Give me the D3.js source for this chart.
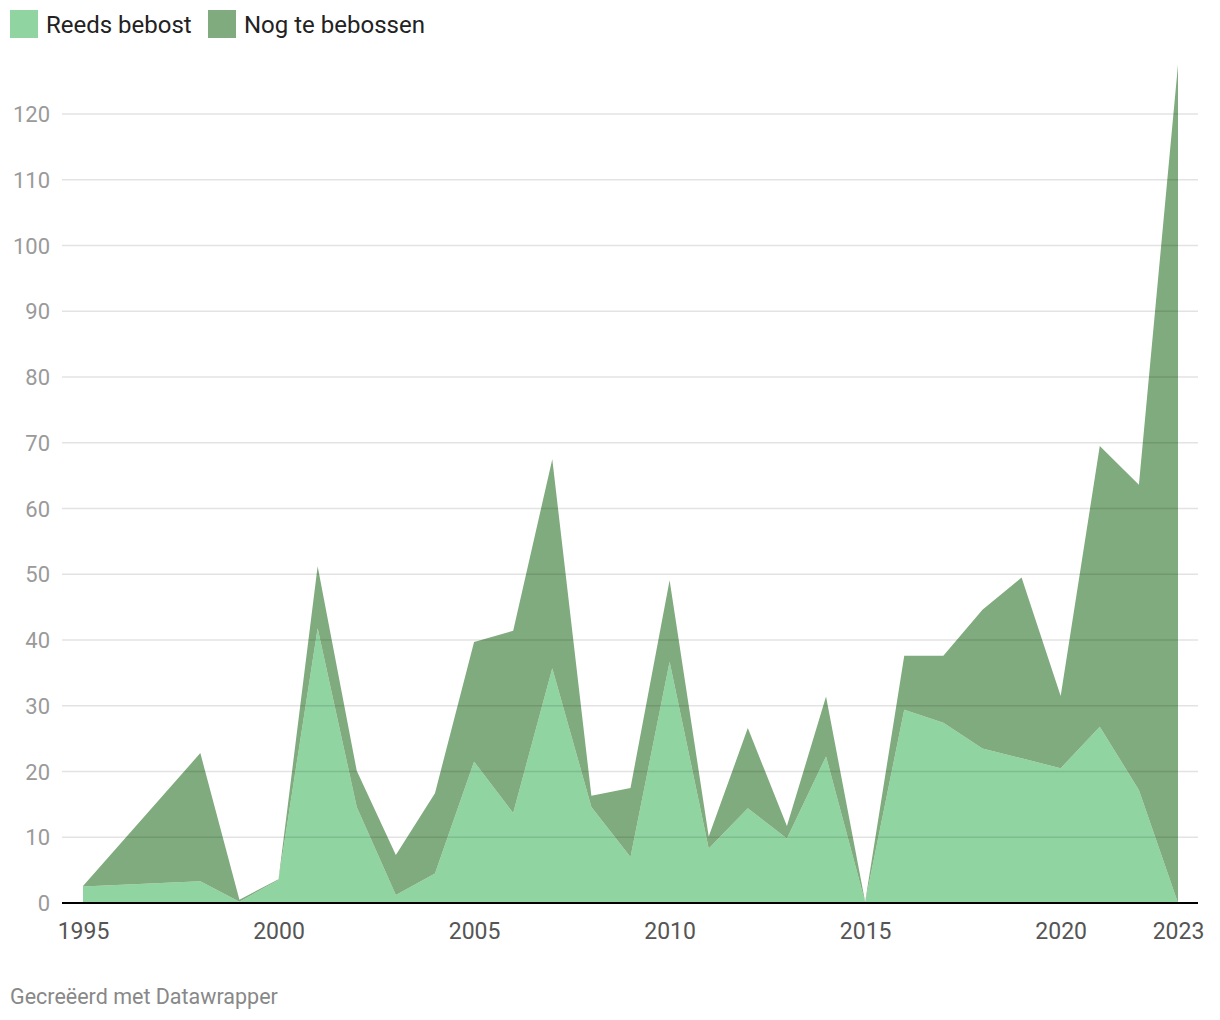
<!DOCTYPE html>
<html>
<head>
<meta charset="utf-8">
<script src="https://cdn.jsdelivr.net/npm/d3@7"></script>
<style>
  html, body { margin: 0; padding: 0; background: #fff; }
  body { width: 1220px; height: 1020px; font-family: Roboto, "Noto Sans", sans-serif; }
</style>
</head>
<body>
<svg id="chart" width="1220" height="1020"></svg>
<script>
const years = [1995, 1998, 1999, 2000, 2001, 2002, 2003, 2004, 2005, 2006, 2007, 2008, 2009, 2010, 2011, 2012, 2013, 2014, 2015, 2016, 2017, 2018, 2019, 2020, 2021, 2022, 2023];
const reedsBebost = [2.5, 3.3, 0.2, 3.5, 41.8, 14.6, 1.2, 4.5, 21.5, 13.7, 35.7, 14.6, 7.0, 36.7, 8.3, 14.4, 9.8, 22.3, 0.1, 29.4, 27.4, 23.5, 22.0, 20.5, 26.8, 17.2, 0];
const nogTeBebossen = [0.1, 19.5, 0.3, 0.1, 9.4, 5.5, 6.1, 12.2, 18.2, 27.7, 31.8, 1.7, 10.5, 12.4, 1.8, 12.2, 1.9, 9.1, 0.1, 8.2, 10.2, 21.1, 27.5, 11.0, 42.7, 46.4, 127.5];
const seriesNames = ["Reeds bebost", "Nog te bebossen"];
const seriesColors = ["#8fd4a1", "#80ab7e"];
const yTicks = [0, 10, 20, 30, 40, 50, 60, 70, 80, 90, 100, 110, 120];
const xTicks = [1995, 2000, 2005, 2010, 2015, 2020, 2023];
const footer = "Gecreëerd met Datawrapper";

(function () {
const svg = d3.select("#chart");
const plotLeft = 62, plotRight = 1198, plotBottom = 903;

const x = d3.scaleLinear().domain([1995, 2023]).range([83, 1178]);
const y = d3.scaleLinear().domain([0, 120]).range([plotBottom, 114]);

const data = years.map((yr, i) => ({ year: yr, a: reedsBebost[i], b: nogTeBebossen[i] }));
const stacked = d3.stack().keys(["a", "b"])(data);

const area = d3.area()
  .x(d => x(d.data.year))
  .y0(d => y(d[0]))
  .y1(d => y(d[1]));

svg.append("g").selectAll("path")
  .data(stacked)
  .join("path")
  .attr("d", area)
  .attr("fill", (d, i) => seriesColors[i]);

const yAxis = d3.axisLeft(y).tickValues(yTicks).tickSize(0).tickPadding(0);
const gy = svg.append("g").attr("transform", `translate(50,0)`).call(yAxis);
gy.select(".domain").remove();
gy.selectAll("text")
  .attr("font-family", "Roboto, sans-serif")
  .attr("font-size", 22)
  .attr("fill", "#9a9a9a")
  .attr("text-anchor", "end")
  .attr("dy", "0.35em");

svg.append("g").selectAll("line")
  .data(yTicks.filter(t => t > 0))
  .join("line")
  .attr("x1", plotLeft).attr("x2", plotRight)
  .attr("y1", d => y(d)).attr("y2", d => y(d))
  .attr("stroke", "rgba(0,0,0,0.11)")
  .attr("stroke-width", 1.5);

svg.append("line")
  .attr("x1", plotLeft).attr("x2", plotRight)
  .attr("y1", plotBottom).attr("y2", plotBottom)
  .attr("stroke", "#000").attr("stroke-width", 2);

const xAxis = d3.axisBottom(x).tickValues(xTicks).tickFormat(d3.format("d")).tickSize(0).tickPadding(0);
const gx = svg.append("g").attr("transform", `translate(0,${plotBottom})`).call(xAxis);
gx.select(".domain").remove();
gx.selectAll("text")
  .attr("font-family", "Roboto, sans-serif")
  .attr("font-size", 23)
  .attr("fill", "#555")
  .attr("dy", 0)
  .attr("y", 36);

const legend = svg.append("g");
const legX = [10, 208];
seriesNames.forEach((n, i) => {
  legend.append("rect").attr("x", legX[i]).attr("y", 10).attr("width", 28).attr("height", 28).attr("fill", seriesColors[i]);
  legend.append("text").attr("x", legX[i] + 36).attr("y", 33)
    .attr("font-family", "Roboto, sans-serif").attr("font-size", 24).attr("fill", "#222").text(n);
});

svg.append("text").attr("x", 10).attr("y", 1004)
  .attr("font-family", "Roboto, sans-serif").attr("font-size", 21.5).attr("fill", "#888").text(footer);
})();
</script>
</body>
</html>
